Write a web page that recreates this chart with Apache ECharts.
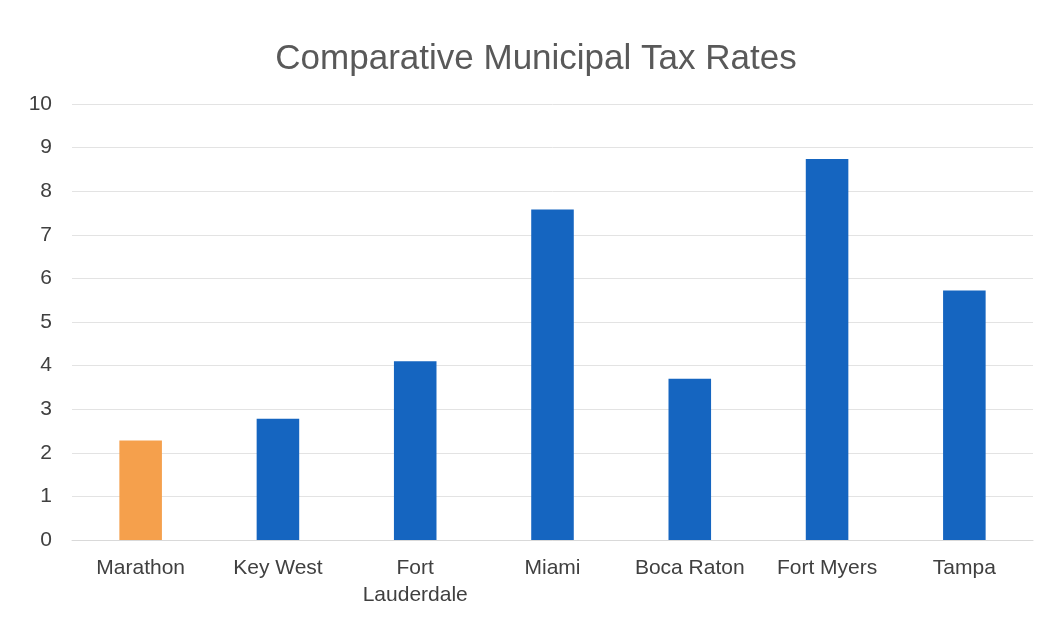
<!DOCTYPE html>
<html>
<head>
<meta charset="utf-8">
<script src="https://cdn.jsdelivr.net/npm/echarts@6/dist/echarts.min.js"></script>
<style>
  html, body { margin: 0; padding: 0; background: #fff; }
  #chart { width: 1048px; height: 619px; }
</style>
</head>
<body>
<div id="chart"></div>
<script>
// 数据
const cities = ['Marathon', 'Key West', 'Fort\nLauderdale', 'Miami', 'Boca Raton', 'Fort Myers', 'Tampa']
const taxRates = [2.28, 2.78, 4.1, 7.58, 3.7, 8.74, 5.72]
const highlightCity = 'Marathon'

const myChart = echarts.init(document.getElementById('chart'))
myChart.setOption({
    animation: false,
    title: {
        text: 'Comparative Municipal Tax Rates',
        left: 531,
        textAlign: 'center',
        top: 37,
        textStyle: {
            fontFamily: 'Liberation Sans, Arial, sans-serif',
            fontSize: 35,
            fontWeight: 'normal',
            color: '#595959',
        },
    },
    grid: {
        left: 72,
        right: 15,
        top: 104,
        bottom: 79,
    },
    xAxis: {
        type: 'category',
        data: cities,
        axisLine: { show: true, lineStyle: { color: '#d9d9d9' } },
        axisTick: { show: false },
        axisLabel: {
            interval: 0,
            hideOverlap: false,
            margin: 15,
            fontFamily: 'Liberation Sans, Arial, sans-serif',
            fontSize: 21,
            lineHeight: 27,
            color: '#404040',
        },
    },
    yAxis: {
        type: 'value',
        min: 0,
        max: 10,
        interval: 1,
        axisLine: { show: false },
        axisTick: { show: false },
        splitLine: { lineStyle: { color: '#e3e3e3' } },
        axisLabel: {
            margin: 20,
            fontFamily: 'Liberation Sans, Arial, sans-serif',
            fontSize: 21,
            color: '#404040',
        },
    },
    series: [
        {
            type: 'bar',
            barWidth: '31%',
            data: taxRates.map((v, i) => ({
                value: v,
                itemStyle: { color: cities[i] === highlightCity ? '#f5a04c' : '#1565c0' },
            })),
        },
    ],
})
</script>
</body>
</html>
